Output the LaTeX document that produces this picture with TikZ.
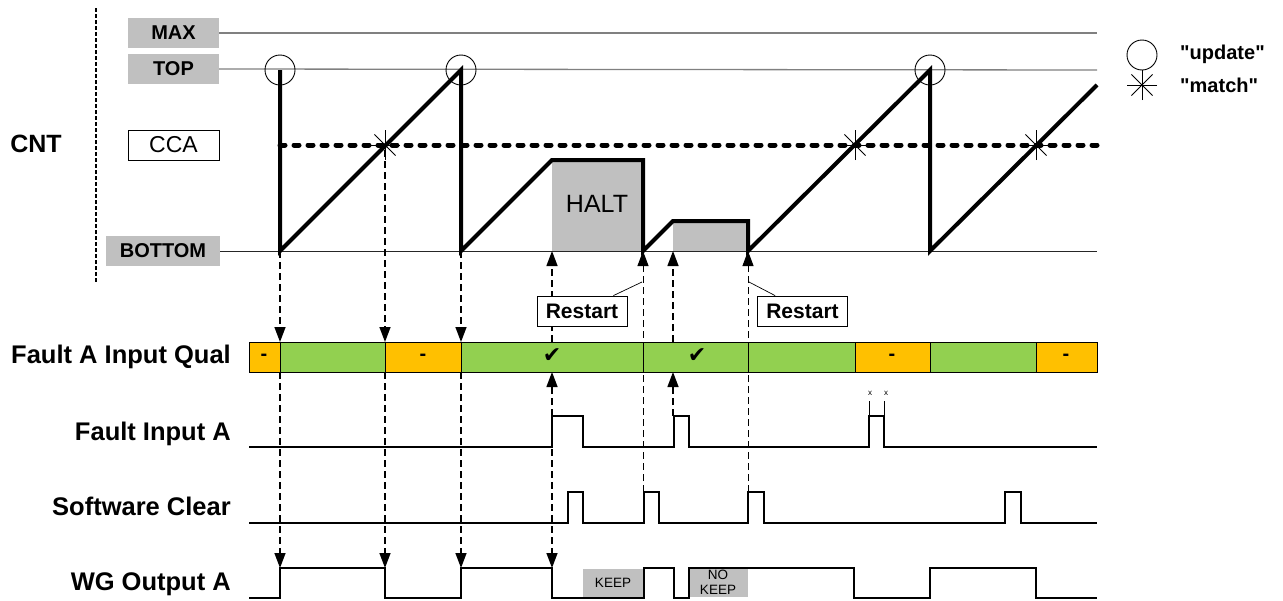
\documentclass[tikz,border=0pt]{standalone}
\usepackage{fontspec}
\setmainfont{Liberation Sans}
\newfontfamily\symfont{DejaVu Sans}
\newfontfamily\quotefont{Liberation Sans}
\usepackage{tikz}
\usetikzlibrary{arrows.meta,positioning}

\definecolor{qorange}{HTML}{FFC000}
\definecolor{qgreen}{HTML}{92D050}
\definecolor{boxgray}{HTML}{C0C0C0}

\newcommand{\updmark}[1]{\draw[line width=0.9pt] (#1) circle[radius=15];}
\newcommand{\matchmark}[1]{\foreach \a in {0,45,90,135} {\draw[line width=1pt] (#1) ++(\a:15) -- ++(\a+180:30);}}

\begin{document}
\begin{tikzpicture}[x=1pt, y=-1pt,
    lbl/.style={fill=boxgray, minimum width=91pt, minimum height=30pt, inner sep=0pt,
      font=\bfseries\fontsize{20}{24}\selectfont},
    rowname/.style={anchor=base east, inner sep=0pt, font=\bfseries\fontsize{25.5}{30}\selectfont},
    rstbox/.style={draw, fill=white, line width=0.8pt, minimum width=90pt, minimum height=30pt,
      inner sep=0pt, font=\bfseries\fontsize{21}{25}\selectfont},
    legtxt/.style={anchor=west, inner sep=0pt, font=\quotefont\bfseries\fontsize{20}{24}\selectfont},
    sig/.style={line width=2.6pt, line join=miter},
    cntline/.style={line width=4pt, line join=miter},
    trig/.style={line width=1.4pt, dash pattern=on 7pt off 4pt,
      -{Triangle[width=11pt,length=15pt]}}]
    \useasboundingbox (0,0) rectangle (1283,600);

    % counter section
    \draw[line width=1.3pt, dash pattern=on 4pt off 2pt] (96,8) -- (96,283);
    \node[font=\bfseries\fontsize{25}{30}\selectfont] (cnt) at (36,144) {CNT};
    \node[lbl] (max) at (173.5,33) {MAX};
    \node[lbl] (top) at (173.5,69) {TOP};
    \node[lbl, minimum width=114pt] (bottom) at (163,251) {BOTTOM};
    \node[draw, line width=0.8pt, minimum width=91pt, minimum height=30pt, inner sep=0pt,
      font=\fontsize{23}{27}\selectfont] (cca) at (173.5,145) {CCA};

    \fill[boxgray] (552,160) rectangle (643,251);
    \fill[boxgray] (673,221) rectangle (748,251);
    \node[font=\fontsize{25}{30}\selectfont] (halt) at (597,204) {HALT};

    \draw[gray, line width=1.3pt] (max.east) -- (1097,33);
    \draw[gray, line width=1.3pt] (top.east) -- (1097,70);
    \draw[black!85, line width=1pt] (bottom.east) -- (1097,251);
    \draw[line width=5pt, line cap=round, dash pattern=on 5pt off 9pt] (280,145) -- (1097,145);

    \draw[cntline] (280,70) -- (280,251) -- (461,70) -- (461,251) -- (552,160) -- (643,160)
      -- (643,251) -- (673,221) -- (748,221) -- (748,251) -- (930,70) -- (930,251) -- (1097,85);

    \foreach \x in {280,461,930} {\updmark{\x,70}}
    \foreach \x in {385,855,1036} {\matchmark{\x,145}}

    % legend
    \updmark{1142,55}
    \matchmark{1142,85}
    \node[legtxt] (updtxt) at (1180,54) {"update"};
    \node[legtxt] (matchtxt) at (1180,85) {"match"};

    % trigger lines
    \foreach \x in {280,461} {\draw[trig] (\x,251) -- (\x,342);}
    \draw[trig] (385,150) -- (385,342);
    \foreach \x in {280,385,461} {\draw[trig] (\x,372) -- (\x,568);}
    \draw[trig] (552,416) -- (552,372);
    \draw[trig] (552,342) -- (552,251);
    \draw[trig] (552,416) -- (552,568);
    \draw[trig] (673,416) -- (673,372);
    \draw[trig] (673,342) -- (673,251);
    \draw[trig, line width=1pt] (643,492) -- (643,251);
    \draw[trig, line width=1pt] (748,492) -- (748,251);

    \node[rstbox] (rst1) at (582,311) {Restart};
    \node[rstbox] (rst2) at (802.5,311) {Restart};
    \coordinate (c1) at (642,282);
    \coordinate (c2) at (749,282);
    \draw[line width=0.7pt] ([xshift=-14pt]rst1.north east) -- (c1);
    \draw[line width=0.7pt] ([xshift=18pt]rst2.north west) -- (c2);

    % qualifier bar
    \foreach \a/\b/\c in {249/280/qorange, 280/385/qgreen, 385/461/qorange, 461/643/qgreen,
        643/748/qgreen, 748/855/qgreen, 855/930/qorange, 930/1036/qgreen, 1036/1097/qorange}
      {\draw[fill=\c, line width=1pt] (\a,342) rectangle (\b,372);}
    \foreach \x in {264,423,892,1066}
      {\node[font=\bfseries\fontsize{20}{24}\selectfont] (dash\x) at (\x,357) {-};}
    \foreach \x in {552,697}
      {\node[font=\symfont\fontsize{22}{24}\selectfont] (ok\x) at (\x,356) {✔};}

    % signal rows
    \node[rowname] (qual) at (231,363) {Fault A Input Qual};
    \node[rowname] (fin) at (231,440) {Fault Input A};
    \node[rowname] (swc) at (231,515) {Software Clear};
    \node[rowname] (wgo) at (231,590) {WG Output A};

    \draw[sig] (249,447) -- (552,447) -- (552,416) -- (583,416) -- (583,447) -- (674,447)
      -- (674,416) -- (689,416) -- (689,447) -- (869,447) -- (869,416) -- (884,416)
      -- (884,447) -- (1097,447);
    \draw[line width=0.8pt] (869,401) -- (869,416) (884,401) -- (884,416);
    \node[font=\fontsize{8}{8}\selectfont] (xa) at (870,393) {x};
    \node[font=\fontsize{8}{8}\selectfont] (xb) at (886,393) {x};

    \draw[sig] (249,523) -- (568,523) -- (568,492) -- (583,492) -- (583,523) -- (644,523)
      -- (644,492) -- (659,492) -- (659,523) -- (748,523) -- (748,492) -- (764,492)
      -- (764,523) -- (1005,523) -- (1005,492) -- (1021,492) -- (1021,523) -- (1097,523);

    \fill[boxgray] (583,569) rectangle (643,597);
    \fill[boxgray] (689,569) rectangle (748,597);
    \node[font=\fontsize{13.5}{15}\selectfont] (keep) at (613,583) {KEEP};
    \node[font=\fontsize{13.5}{15}\selectfont, align=center] (nokeep) at (718,582) {NO\\KEEP};
    \draw[sig] (249,598) -- (280,598) -- (280,568) -- (385,568) -- (385,598) -- (461,598)
      -- (461,568) -- (552,568) -- (552,598) -- (644,598) -- (644,568) -- (674,568)
      -- (674,598) -- (689,598) -- (689,568) -- (854,568) -- (854,598) -- (930,598)
      -- (930,568) -- (1036,568) -- (1036,598) -- (1097,598);
\end{tikzpicture}
\end{document}
